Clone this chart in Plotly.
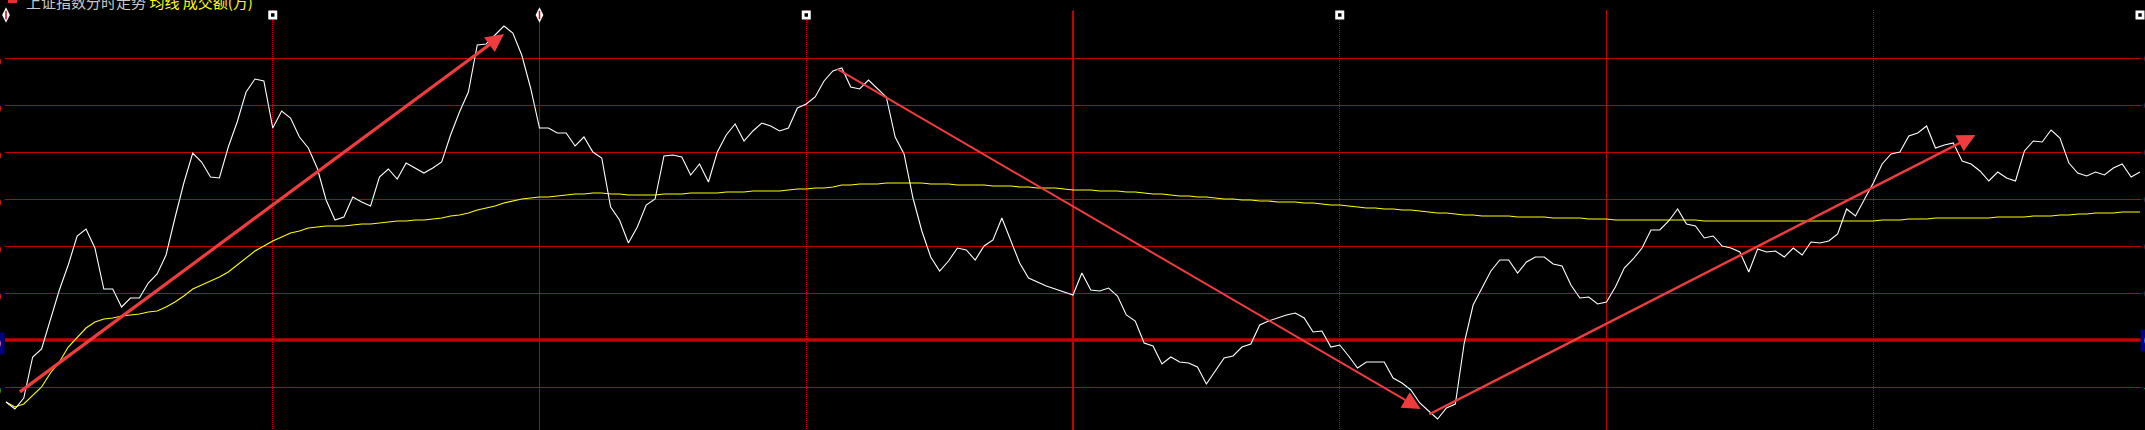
import plotly.graph_objects as go

# ---------------- data ----------------
PREV_CLOSE = 3200.0
GRID_STEP = 4.7
TITLE_MAIN = "上证指数分时走势"
TITLE_SUB = "均线 成交额(万)"

PRICE = [
    3193.8, 3193.1, 3194.2, 3198.3, 3199.1, 3202.0, 3205.0, 3207.5, 3210.4, 3211.1,
    3209.2, 3205.1, 3205.1, 3203.3, 3204.2, 3204.2, 3205.7, 3206.6, 3208.5, 3212.2,
    3215.7, 3218.7, 3217.8, 3216.3, 3216.2, 3219.3, 3221.8, 3224.8, 3226.1, 3225.9,
    3221.2, 3222.9, 3222.2, 3220.3, 3219.2, 3217.2, 3214.0, 3212.0, 3212.3, 3214.3,
    3213.8, 3213.4, 3216.3, 3217.1, 3216.1, 3217.7, 3217.2, 3216.7, 3217.2, 3217.8,
    3220.5, 3222.8, 3224.8, 3229.5, 3229.6, 3230.5, 3231.4, 3230.7, 3228.5, 3225.2,
    3221.2, 3221.2, 3220.7, 3220.7, 3219.4, 3220.3, 3218.8, 3218.2, 3213.3, 3212.0,
    3209.7, 3211.3, 3213.5, 3214.1, 3218.4, 3218.5, 3218.3, 3216.5, 3217.6, 3215.8,
    3218.8, 3220.5, 3221.6, 3219.9, 3220.9, 3221.7, 3221.4, 3220.9, 3221.2, 3223.2,
    3223.6, 3224.3, 3225.9, 3226.9, 3227.2, 3225.3, 3225.1, 3226.0, 3225.2, 3224.3,
    3220.3, 3218.6, 3214.2, 3210.9, 3208.3, 3206.9, 3207.9, 3209.2, 3209.0, 3208.0,
    3209.4, 3210.0, 3212.2, 3210.0, 3207.7, 3206.2, 3205.8, 3205.4, 3205.1, 3204.8,
    3204.5, 3206.7, 3205.0, 3204.9, 3205.2, 3204.4, 3202.5, 3201.9, 3199.7, 3199.4,
    3197.6, 3198.3, 3197.8, 3197.7, 3197.3, 3195.6, 3196.9, 3198.2, 3198.4, 3199.3,
    3199.6, 3201.5, 3201.9, 3202.2, 3202.5, 3202.7, 3202.2, 3200.8, 3200.9, 3199.3,
    3199.5, 3198.4, 3197.2, 3197.8, 3197.8, 3197.8, 3196.2, 3195.7, 3195.0, 3193.7,
    3192.9, 3192.1, 3193.2, 3193.6, 3199.7, 3203.5, 3205.2, 3206.9, 3208.0, 3208.0,
    3206.7, 3207.8, 3208.3, 3208.3, 3207.6, 3207.4, 3205.5, 3204.2, 3204.3, 3203.6,
    3203.8, 3205.3, 3207.2, 3208.1, 3209.2, 3211.0, 3211.0, 3211.9, 3213.1, 3211.6,
    3211.4, 3210.2, 3210.4, 3209.4, 3209.2, 3208.8, 3206.8, 3209.1, 3208.8, 3208.9,
    3208.3, 3209.2, 3208.5, 3209.8, 3209.7, 3209.9, 3210.6, 3213.1, 3212.4, 3214.0,
    3215.7, 3217.6, 3218.6, 3218.8, 3220.4, 3220.7, 3221.4, 3219.2, 3219.5, 3219.7,
    3217.9, 3217.6, 3216.9, 3215.9, 3216.8, 3216.2, 3215.9, 3218.9, 3219.9, 3219.8,
    3221.0, 3220.2, 3217.7, 3216.7, 3216.4, 3216.8, 3216.5, 3217.2, 3217.6, 3216.3,
    3216.8,
]

AVG = [
    3193.8, 3193.3, 3193.6, 3194.5, 3195.3, 3196.7, 3197.8, 3199.3, 3200.3, 3201.2,
    3201.8, 3202.1, 3202.2, 3202.4, 3202.5, 3202.6, 3202.8, 3202.9, 3203.3, 3203.8,
    3204.4, 3205.1, 3205.5, 3205.9, 3206.3, 3206.8, 3207.5, 3208.2, 3208.9, 3209.4,
    3209.9, 3210.3, 3210.7, 3210.9, 3211.2, 3211.3, 3211.4, 3211.4, 3211.4, 3211.5,
    3211.6, 3211.6, 3211.7, 3211.8, 3211.9, 3211.9, 3212.0, 3212.0, 3212.1, 3212.2,
    3212.4, 3212.5, 3212.7, 3213.0, 3213.2, 3213.4, 3213.7, 3213.9, 3214.1, 3214.2,
    3214.3, 3214.3, 3214.4, 3214.5, 3214.6, 3214.6, 3214.7, 3214.7, 3214.6, 3214.6,
    3214.5, 3214.5, 3214.5, 3214.5, 3214.6, 3214.6, 3214.6, 3214.7, 3214.7, 3214.7,
    3214.7, 3214.8, 3214.8, 3214.8, 3214.9, 3214.9, 3214.9, 3214.9, 3215.0, 3215.1,
    3215.1, 3215.2, 3215.2, 3215.3, 3215.5, 3215.5, 3215.6, 3215.6, 3215.6, 3215.7,
    3215.7, 3215.7, 3215.7, 3215.7, 3215.6, 3215.6, 3215.6, 3215.5, 3215.5, 3215.5,
    3215.5, 3215.4, 3215.4, 3215.4, 3215.3, 3215.3, 3215.2, 3215.2, 3215.2, 3215.1,
    3215.0, 3215.0, 3215.0, 3214.9, 3214.9, 3214.9, 3214.8, 3214.8, 3214.7, 3214.6,
    3214.6, 3214.5, 3214.4, 3214.4, 3214.3, 3214.3, 3214.2, 3214.1, 3214.1, 3214.0,
    3214.0, 3213.9, 3213.9, 3213.8, 3213.8, 3213.8, 3213.7, 3213.7, 3213.6, 3213.5,
    3213.5, 3213.4, 3213.3, 3213.2, 3213.2, 3213.1, 3213.1, 3213.0, 3213.0, 3212.9,
    3212.8, 3212.7, 3212.7, 3212.6, 3212.5, 3212.5, 3212.4, 3212.4, 3212.4, 3212.4,
    3212.3, 3212.3, 3212.3, 3212.3, 3212.2, 3212.2, 3212.2, 3212.2, 3212.1, 3212.1,
    3212.1, 3212.0, 3212.0, 3212.0, 3212.0, 3212.0, 3212.0, 3212.0, 3212.0, 3212.0,
    3212.0, 3211.9, 3211.9, 3211.9, 3211.9, 3211.9, 3211.9, 3211.9, 3211.9, 3211.9,
    3211.9, 3211.9, 3211.9, 3211.9, 3211.9, 3211.9, 3211.9, 3211.9, 3211.9, 3211.9,
    3211.9, 3212.0, 3212.0, 3212.0, 3212.1, 3212.1, 3212.1, 3212.2, 3212.2, 3212.2,
    3212.2, 3212.2, 3212.2, 3212.2, 3212.3, 3212.3, 3212.3, 3212.3, 3212.4, 3212.4,
    3212.4, 3212.5, 3212.5, 3212.6, 3212.6, 3212.7, 3212.7, 3212.7, 3212.8, 3212.8,
    3212.8,
]

MINUTES = list(range(len(PRICE)))           # 0 = 09:30 ... 240 = 15:00
SOLID_V = [0, 60, 120, 180, 240]             # solid time grid (minutes)
DOTTED_V = [30, 90, 150, 210]                # dotted time grid (minutes)
MIDDAY = 120
GRID_K = list(range(-2, 8))                  # grid levels in steps from prev close

# drawn trend arrows: (tail minute, tail price, head minute, head price, width)
ARROWS = [
    (1.4, 3194.7, 56.0, 3230.6, 3.2),
    (93.3, 3227.2, 159.1, 3193.1, 2.0),
    (159.9, 3192.5, 221.5, 3220.5, 2.4),
]
# top marker positions (minutes)
HANDLE_MARKS = [0, 60]
BOX_MARKS = [30, 90, 150, 240]

# ---------------- styling ----------------
RED = "#c40000"
ARROW_RED = "#f03c3c"
BG = "black"
W, H = 2145, 430
ML, MR, MT, MB = 5, 4, 10, 0
PLOT_W = W - ML - MR
PLOT_H = H - MT - MB


def px_x(p):
    """pixel column -> paper x (for decorations outside the plot area)"""
    return (p - ML) / PLOT_W


def px_y(p):
    """pixel row -> paper y"""
    return 1 - (p - MT) / PLOT_H


grid_vals = [PREV_CLOSE + k * GRID_STEP for k in GRID_K]
top_level = PREV_CLOSE + 7 * GRID_STEP

fig = go.Figure()

fig.add_trace(go.Scatter(x=MINUTES, y=AVG, mode="lines",
                         line=dict(color="#ffff00", width=1.1), hoverinfo="skip"))
fig.add_trace(go.Scatter(x=MINUTES, y=PRICE, mode="lines",
                         line=dict(color="#ffffff", width=1.1), hoverinfo="skip"))

mark_y = top_level - 0.4
fig.add_trace(go.Scatter(x=HANDLE_MARKS, y=[mark_y] * len(HANDLE_MARKS), mode="markers",
                         marker=dict(symbol="diamond-tall", size=11, color="white",
                                     line=dict(width=0)),
                         cliponaxis=False, hoverinfo="skip"))
fig.add_trace(go.Scatter(x=HANDLE_MARKS, y=[mark_y] * len(HANDLE_MARKS), mode="markers",
                         marker=dict(symbol="line-ns", size=6,
                                     line=dict(width=1.5, color="#c40000")),
                         cliponaxis=False, hoverinfo="skip"))
fig.add_trace(go.Scatter(x=BOX_MARKS, y=[mark_y] * len(BOX_MARKS), mode="markers",
                         marker=dict(symbol="square", size=9, color="white",
                                     line=dict(width=0)),
                         cliponaxis=False, hoverinfo="skip"))
fig.add_trace(go.Scatter(x=BOX_MARKS, y=[mark_y] * len(BOX_MARKS), mode="markers",
                         marker=dict(symbol="square", size=3.5, color="black",
                                     line=dict(width=0)),
                         cliponaxis=False, hoverinfo="skip"))

shapes = [
    dict(type="line", xref="paper", x0=0, x1=1, yref="y", y0=PREV_CLOSE, y1=PREV_CLOSE,
         line=dict(color=RED, width=3.6), layer="below"),
    dict(type="line", xref="x", x0=MIDDAY, x1=MIDDAY, yref="y", y0=grid_vals[0], y1=top_level,
         line=dict(color=RED, width=2), layer="below"),
    # small red icon at the top-left corner (mostly outside the window)
    dict(type="rect", xref="paper", yref="paper", x0=px_x(8), x1=px_x(17),
         y0=px_y(3), y1=px_y(0), fillcolor="#e03030", line=dict(width=0)),
]

annotations = []
for (ax, ay, hx, hy, w) in ARROWS:
    annotations.append(dict(x=hx, y=hy, ax=ax, ay=ay, xref="x", yref="y",
                            axref="x", ayref="y", text="", showarrow=True,
                            arrowhead=2, arrowsize=3.6 / w, arrowwidth=w,
                            arrowcolor=ARROW_RED, standoff=0, startstandoff=0))

# side scale labels (price on the left, percent on the right), mostly outside the window
for k, v in zip(GRID_K, grid_vals):
    if k < -1:
        continue
    pct = (v - PREV_CLOSE) / PREV_CLOSE * 100
    if k > 0:
        col, bg = "#ff4040", None
    elif k < 0:
        col, bg = "#40ff40", None
    else:
        col, bg = "#d0d0ff", "#000080"
    if k < 7:
        annotations.append(dict(xref="paper", x=0, xanchor="right", xshift=0,
                                yref="y", y=v, yanchor="middle", yshift=-3,
                                text=f"{v:.2f}", showarrow=False,
                                font=dict(color=col, size=13, family="Liberation Sans"),
                                bgcolor=bg, borderpad=3))
    annotations.append(dict(xref="paper", x=1, xanchor="left", xshift=-1,
                            yref="y", y=v, yanchor="middle",
                            text=f"{pct:.2f}%", showarrow=False,
                            font=dict(color=col, size=13, family="Liberation Sans"),
                            bgcolor=bg, borderpad=3))

annotations.append(dict(xref="paper", x=0, xanchor="left", xshift=19,
                        yref="paper", y=1, yanchor="bottom", yshift=-4,
                        text=f"<span style='color:#c8c8c8'>{TITLE_MAIN}</span> "
                             f"<span style='color:#ffff00'>{TITLE_SUB}</span>",
                        showarrow=False,
                        font=dict(size=15, family="Noto Sans CJK SC", color="#c8c8c8")))

fig.update_layout(
    width=W, height=H,
    margin=dict(l=ML, r=MR, t=MT, b=MB),
    paper_bgcolor=BG, plot_bgcolor=BG,
    showlegend=False,
    shapes=shapes,
    annotations=annotations,
    xaxis=dict(range=[-0.1125, 240.1125], tickmode="array", tickvals=SOLID_V,
               showticklabels=False, ticks="", showgrid=True, gridcolor=RED, gridwidth=1,
               zeroline=False, showline=False, fixedrange=True,
               minor=dict(tickmode="array", tickvals=DOTTED_V, showgrid=True,
                          gridcolor="#d00000", gridwidth=1, griddash="1px,1px", ticks="")),
    yaxis=dict(range=[3191.0, 3233.0], tickmode="array", tickvals=grid_vals,
               showticklabels=False, ticks="", showgrid=True, gridcolor=RED, gridwidth=1,
               zeroline=False, showline=False, fixedrange=True),
)

fig.write_html("out.html",
               config={"displayModeBar": False, "staticPlot": True},
               post_script="document.body.style.margin='0';document.body.style.overflow='hidden';"
                           "document.documentElement.style.overflow='hidden';")
